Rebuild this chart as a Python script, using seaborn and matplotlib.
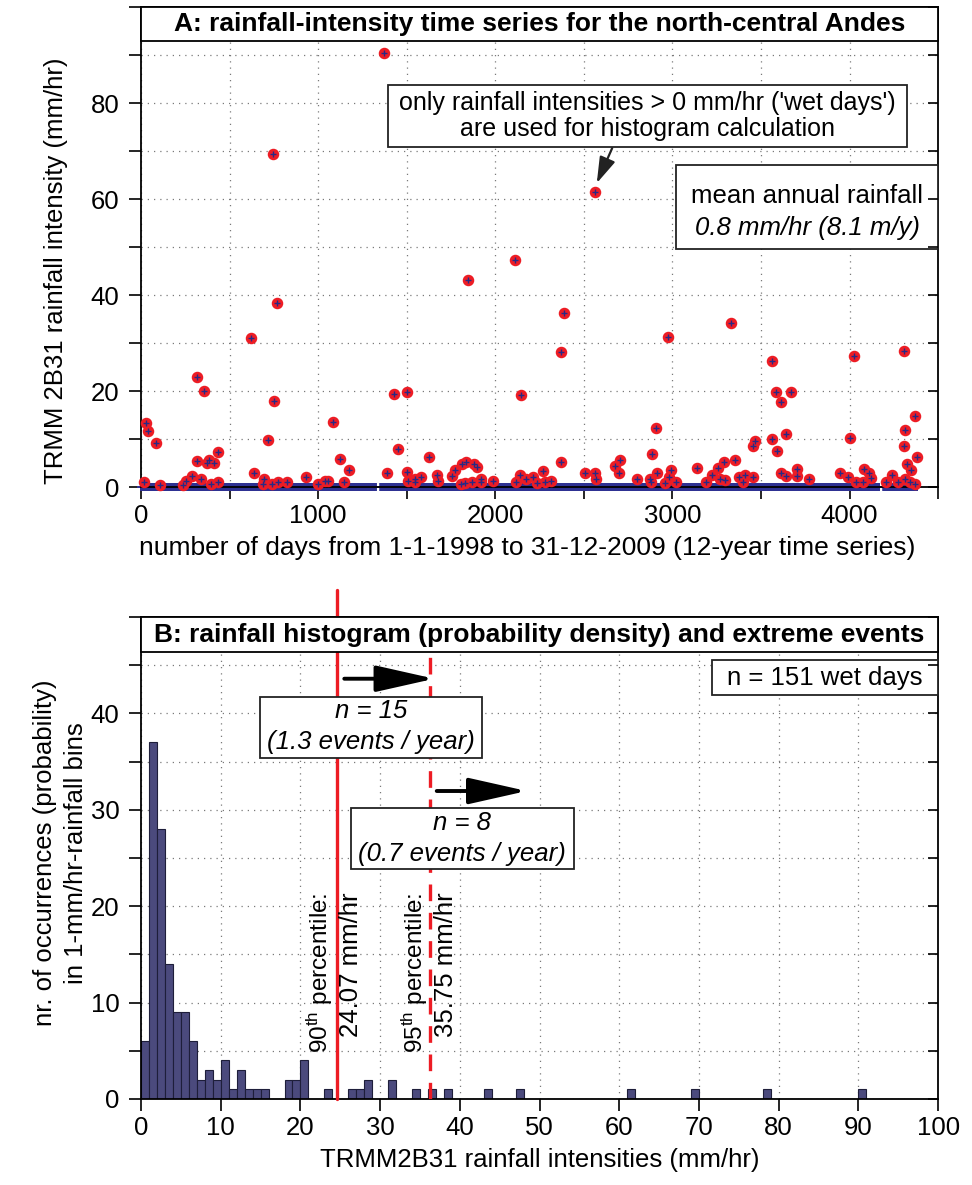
import numpy as np
import pandas as pd
import matplotlib
matplotlib.use("Agg")
import matplotlib.pyplot as plt
import seaborn as sns
from matplotlib.patches import Rectangle
from matplotlib.ticker import MultipleLocator, FixedLocator

# ---------------- data ----------------
# Panel A: wet days (rainfall intensity > 0 mm/hr)
wet_day = [19, 28, 41, 83, 107, 235, 252, 286, 318, 318, 337, 357, 371, 384, 395, 412, 433, 436,
           621, 638, 686, 696, 718, 737, 746, 752, 765, 771, 822, 929, 1000, 1038, 1057, 1083,
           1123, 1147, 1174, 1372, 1386, 1430, 1448, 1499, 1502, 1505, 1546, 1548, 1580, 1625,
           1669, 1674, 1753, 1772, 1806, 1810, 1828, 1834, 1847, 1871, 1881, 1899, 1918, 1922,
           1988, 2110, 2119, 2138, 2147, 2176, 2215, 2238, 2270, 2283, 2313, 2370, 2370, 2387,
           2505, 2561, 2565, 2568, 2678, 2697, 2703, 2802, 2872, 2877, 2885, 2906, 2915, 2956,
           2975, 2982, 2994, 3022, 3139, 3191, 3223, 3257, 3266, 3291, 3295, 3329, 3351, 3374,
           3398, 3408, 3454, 3454, 3468, 3562, 3562, 3586, 3592, 3615, 3615, 3639, 3643, 3671,
           3703, 3705, 3774, 3949, 3991, 4004, 4025, 4038, 4047, 4076, 4081, 4109, 4123, 4207,
           4239, 4273, 4307, 4310, 4314, 4314, 4325, 4339, 4348, 4367, 4367, 4382]
wet_mm_hr = [1.0, 13.4, 11.7, 9.2, 0.5, 0.5, 1.3, 2.2, 23.0, 5.4, 1.7, 20.1, 5.1, 5.6, 0.6, 5.0, 1.0, 7.2,
             31.1, 3.0, 0.6, 1.6, 9.8, 0.6, 69.4, 18.0, 38.3, 1.1, 1.0, 2.0, 0.6, 1.3, 1.3, 13.6,
             5.9, 1.0, 3.6, 90.5, 3.0, 19.4, 7.9, 19.7, 3.1, 1.3, 1.7, 1.0, 2.0, 6.3,
             2.5, 1.3, 2.2, 3.6, 0.6, 4.7, 0.9, 5.3, 43.2, 1.0, 4.9, 4.2, 1.6, 1.0,
             1.3, 47.2, 1.0, 2.6, 19.2, 1.7, 2.1, 0.8, 3.4, 1.0, 1.3, 5.3, 28.2, 36.2,
             3.0, 61.4, 3.0, 1.6, 4.4, 2.9, 5.6, 1.7, 1.7, 1.0, 6.8, 12.3, 3.0, 0.8,
             31.3, 2.0, 3.6, 1.0, 4.0, 1.0, 2.5, 3.9, 1.7, 5.3, 1.5, 34.2, 5.6, 2.0,
             1.1, 2.5, 2.0, 8.6, 9.6, 26.3, 10.0, 19.9, 7.6, 17.7, 3.0, 11.1, 2.2, 19.7,
             3.8, 2.2, 1.7, 2.9, 2.0, 10.3, 27.4, 1.0, 77.8, 1.0, 3.8, 2.9, 1.8, 1.0,
             2.5, 1.1, 28.3, 8.6, 11.9, 1.7, 4.9, 1.0, 3.6, 14.8, 0.6, 6.3]
open_marker_day = [4047]           # wet day drawn as an open circle
n_days = 4383                      # 1-1-1998 .. 31-12-2009
missing_ranges = [(1326, 1350), (4170, 4190)]   # gaps in the record

# Panel B: histogram counts in 1-mm/hr bins (left bin edge)
bin_left = [0, 1, 2, 3, 4, 5, 6, 7, 8, 9, 10, 11, 12, 13, 14, 15, 18, 19, 20, 23, 26, 27, 28,
            31, 34, 36, 38, 43, 47, 61, 69, 78, 90]
bin_count = [6, 37, 28, 14, 9, 9, 6, 2, 3, 2, 4, 1, 3, 1, 1, 1, 2, 2, 4, 1, 1, 1, 2,
             2, 1, 1, 1, 1, 1, 1, 1, 1, 1]
pct_names = ["90", "95"]
pct_values = [24.07, 35.75]
n_wet = 151
n_above = [15, 8]
events_per_year = [1.3, 0.7]
mean_rain_mm_hr = 0.8
mean_rain_m_y = 8.1

# ---------------- style ----------------
sns.set_theme(style="white")
plt.rcParams["font.family"] = ["Liberation Sans", "DejaVu Sans"]
plt.rcParams["mathtext.fontset"] = "custom"
plt.rcParams["mathtext.rm"] = "Liberation Sans"
plt.rcParams["mathtext.it"] = "Liberation Sans:italic"
plt.rcParams["text.color"] = "black"
plt.rcParams["axes.labelcolor"] = "black"
plt.rcParams["xtick.color"] = "black"
plt.rcParams["ytick.color"] = "black"

RED = "#ed1c24"
NAVY = "#262a86"
DRY = "#2e3192"
BAR = "#4b4a7d"
FS_TICK = 18.5
FS_LAB = 18.5
FS_BOX = 18
FS_TITLE = 19
GRID = dict(color="#7a7a7a", linestyle=(0, (1, 4)), linewidth=0.9)

fig = plt.figure(figsize=(9.72, 11.85), dpi=100)
axA = fig.add_axes([0.1451, 0.5890, 0.8200, 0.4051])
axB = fig.add_axes([0.1451, 0.0726, 0.8200, 0.4067])


def frame(ax, title, h):
    for s in ax.spines.values():
        s.set_color("black")
        s.set_linewidth(1.3)
        s.set_visible(True)
    ax.add_patch(Rectangle((0, 1 - h), 1, h, transform=ax.transAxes, facecolor="white",
                           edgecolor="black", lw=1.3, zorder=6, clip_on=False))
    ax.text(0.5, 1 - h / 2, title, transform=ax.transAxes, ha="center", va="center",
            fontsize=FS_TITLE, fontweight="bold", color="black", zorder=7)
    ax.tick_params(axis="both", which="both", direction="out", length=8.5, width=1.2,
                   colors="black", labelsize=FS_TICK, left=True, bottom=True, top=False, right=False)
    ax.tick_params(axis="y", which="both", pad=7)
    ax.tick_params(axis="x", which="both", pad=4)
    tw = ax.twinx()
    tw.set_ylim(ax.get_ylim())
    tw.yaxis.set_major_locator(ax.yaxis.get_minor_locator())
    tw.tick_params(axis="y", which="both", direction="in", length=7, width=1.2,
                   labelright=False, right=True, colors="black")
    for s in tw.spines.values():
        s.set_visible(False)
    tw.grid(False)


# ---------------- panel A ----------------
wet_day_a = np.array(wet_day)
wet_val_a = np.array(wet_mm_hr)
all_days = np.arange(n_days)
dry_mask = ~np.isin(all_days, wet_day_a)
for a, b in missing_ranges:
    dry_mask &= ~((all_days >= a) & (all_days <= b))
dry_days = all_days[dry_mask]

axA.set_xlim(0, 4500)
axA.set_ylim(0, 100)
axA.xaxis.set_major_locator(MultipleLocator(1000))
axA.xaxis.set_minor_locator(MultipleLocator(500))
axA.yaxis.set_major_locator(FixedLocator([0, 20, 40, 60, 80]))
axA.yaxis.set_minor_locator(MultipleLocator(10))
axA.grid(True, which="both", **GRID)
axA.set_axisbelow(True)

sns.scatterplot(x=dry_days, y=np.zeros(len(dry_days)), marker="+", color=DRY, s=34,
                linewidth=1.3, alpha=0.85, ax=axA, zorder=2.2, clip_on=False, legend=False)
is_open = np.isin(wet_day_a, open_marker_day)
sns.scatterplot(x=wet_day_a[~is_open], y=wet_val_a[~is_open], marker="o", color=RED,
                edgecolor=RED, s=50, linewidth=1.2, ax=axA, zorder=4, clip_on=False, legend=False)
sns.scatterplot(x=wet_day_a[~is_open], y=wet_val_a[~is_open], marker="+", color=NAVY,
                s=18, linewidth=1.0, ax=axA, zorder=5, clip_on=False, legend=False)
sns.scatterplot(x=wet_day_a[is_open], y=wet_val_a[is_open], marker="o", facecolor="white",
                edgecolor=RED, s=40, linewidth=1.6, ax=axA, zorder=5, legend=False)

frame(axA, "A: rainfall-intensity time series for the north-central Andes", 34 / 480)
axA.set_xlabel("number of days from 1-1-1998 to 31-12-2009 (12-year time series)",
               fontsize=19)
axA.xaxis.set_label_coords(0.484, -0.102)
axA.set_ylabel("TRMM 2B31 rainfall intensity (mm/hr)", fontsize=FS_LAB)
axA.yaxis.set_label_coords(-0.092, 0.45)

axA.add_patch(Rectangle((1393, 70.8), 4327 - 1393, 83.8 - 70.8, facecolor="white",
                        edgecolor="#222222", lw=1.3, zorder=6))
axA.text(2860, 77.3, "only rainfall intensities > 0 mm/hr ('wet days')\nare used for histogram calculation",
         ha="center", va="center", fontsize=FS_BOX, linespacing=1.1, zorder=7)
axA.annotate("", xy=(2573, 63.3), xytext=(2660, 70.6),
             arrowprops=dict(arrowstyle="-|>,head_length=1.6,head_width=0.5", color="#222222",
                             lw=1.6, shrinkA=0, shrinkB=0, mutation_scale=10), zorder=7)
axA.add_patch(Rectangle((3018, 49.5), 4500 - 3018, 67.1 - 49.5, facecolor="white",
                        edgecolor="#222222", lw=1.3, zorder=6, clip_on=False))
axA.text(3760, 60.6, "mean annual rainfall", ha="center", va="center", fontsize=FS_LAB, zorder=7)
axA.text(3760, 54.0, f"{mean_rain_mm_hr} mm/hr ({mean_rain_m_y} m/y)", ha="center", va="center",
         fontsize=FS_LAB, style="italic", zorder=7)

# ---------------- panel B ----------------
axB.set_xlim(0, 100)
axB.set_ylim(0, 50)
axB.xaxis.set_major_locator(MultipleLocator(10))
axB.yaxis.set_major_locator(FixedLocator([0, 10, 20, 30, 40]))
axB.yaxis.set_minor_locator(MultipleLocator(5))
axB.grid(True, which="major", axis="x", **GRID)
axB.grid(True, which="both", axis="y", **GRID)
axB.set_axisbelow(True)

# expand the bin counts into one observation per wet day (at the bin centre)
hist_obs = np.repeat(np.array(bin_left) + 0.5, bin_count)
sns.histplot(x=hist_obs, bins=np.arange(0, 101, 1), stat="count",
             color=BAR, edgecolor="#1e1e3a", linewidth=0.8, alpha=1, ax=axB, zorder=2)

axB.plot([pct_values[0] + 0.5] * 2, [0, 52.8], color=RED, lw=2.4, zorder=4, clip_on=False)
axB.plot([pct_values[1] + 0.5] * 2, [0, 48.5], color=RED, lw=2.4, ls=(0, (5, 3.5)), zorder=4)

frame(axB, "B: rainfall histogram (probability density) and extreme events", 35 / 482)
axB.set_xlabel("TRMM2B31 rainfall intensities (mm/hr)", fontsize=FS_LAB)
axB.xaxis.set_label_coords(0.5, -0.102)
axB.set_ylabel("nr. of occurrences (probability)\nin 1-mm/hr-rainfall bins", fontsize=FS_LAB,
               linespacing=1.4)
axB.yaxis.set_label_coords(-0.066, 0.51)

for name, val, xl, xr in zip(pct_names, pct_values, [22.4, 34.3], [26.3, 38.3]):
    axB.text(xl, 21.4, f"{name}$^{{\\mathrm{{th}}}}$ percentile:", rotation=90, ha="center",
             va="top", fontsize=17.5, zorder=5)
    axB.text(xr, 21.4, f"{val:.2f} mm/hr", rotation=90, ha="center", va="top",
             fontsize=FS_LAB, zorder=5)

axB.add_patch(Rectangle((71.6, 41.9), 100 - 71.6, 45.5 - 41.9, facecolor="white",
                        edgecolor="#222222", lw=1.3, zorder=6, clip_on=False))
axB.text(85.8, 43.7, f"n = {n_wet} wet days", ha="center", va="center", fontsize=FS_LAB, zorder=7)

for (x0, x1, y0, y1), (ty1, ty2), n, ev, (ax0, ax1, ay) in zip(
        [(14.9, 42.8, 35.4, 41.7), (26.3, 54.3, 23.9, 30.2)],
        [(40.2, 37.0), (28.6, 25.4)],
        n_above, events_per_year,
        [(25.5, 36.8, 43.6), (37.1, 48.4, 31.95)]):
    axB.add_patch(Rectangle((x0, y0), x1 - x0, y1 - y0, facecolor="white",
                            edgecolor="#222222", lw=1.3, zorder=6))
    xc = (x0 + x1) / 2
    axB.text(xc, ty1, f"n = {n}", ha="center", va="center", fontsize=FS_LAB, style="italic", zorder=7)
    axB.text(xc, ty2, f"({ev} events / year)", ha="center", va="center", fontsize=FS_LAB,
             style="italic", zorder=7)
    axB.annotate("", xy=(ax1, ay), xytext=(ax0, ay),
                 arrowprops=dict(arrowstyle="-|>,head_length=2.0,head_width=0.45", color="black",
                                 lw=2.8, shrinkA=0, shrinkB=0, mutation_scale=18), zorder=7)

fig.savefig("out.png", dpi=100)
